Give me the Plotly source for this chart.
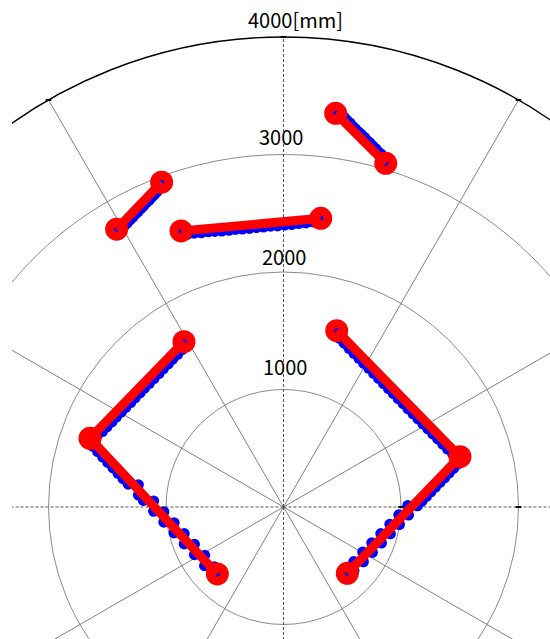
import plotly.graph_objects as go
import math

# ---------------- data (mm) ----------------
ring_radii = [1000, 2000, 3000, 4000]
ring_labels = ["1000", "2000", "3000", "4000[mm]"]
spoke_angles = [30, 60, 120, 150, 210, 240, 300, 330]
axis_angles = [0, 90, 180, 270]

# fitted line segments (red)
seg_a_x = [444, 870]
seg_a_y = [3351, 2925]
seg_b_x = [-1420, -1037]
seg_b_y = [2364, 2764]
seg_c_x = [-872, 317]
seg_c_y = [2349, 2457]
seg_d_x = [-847, -1647, -563]
seg_d_y = [1407, 585, -570]
seg_e_x = [453, 1502, 543]
seg_e_y = [1501, 428, -564]

# scan points (blue)
blue_a_x = [444, 470, 492, 518, 541, 566, 590, 613, 640, 662, 688, 712, 736, 760, 785, 808, 832, 852, 870]
blue_a_y = [3351, 3362, 3338, 3316, 3290, 3268, 3240, 3218, 3192, 3171, 3147, 3119, 3099, 3073, 3050, 3023, 3003, 2973, 2925]
blue_b_x = [-1420, -1398, -1375, -1352, -1330, -1306, -1284, -1260, -1238, -1214, -1192, -1168, -1145, -1122, -1100, -1078, -1058, -1037]
blue_b_y = [2364, 2347, 2369, 2397, 2416, 2443, 2464, 2493, 2512, 2539, 2560, 2589, 2609, 2635, 2656, 2683, 2712, 2764]
blue_c_x = [-872, -815, -760, -700, -640, -585, -525, -465, -410, -350, -290, -230, -170, -110, -50, 10, 70, 130, 190, 250, 317]
blue_c_y = [2349, 2322, 2330, 2333, 2342, 2345, 2348, 2355, 2362, 2365, 2371, 2378, 2382, 2390, 2392, 2400, 2404, 2412, 2418, 2426, 2457]
blue_d1_x = [-847, -862, -900, -942, -980, -1022, -1060, -1102, -1140, -1182, -1220, -1262, -1300, -1342, -1380, -1422, -1460, -1502, -1541, -1586, -1647]
blue_d1_y = [1407, 1340, 1299, 1258, 1218, 1176, 1135, 1093, 1053, 1011, 971, 929, 889, 847, 807, 765, 724, 682, 642, 606, 585]
blue_d2_x = [-1626, -1582, -1539, -1496, -1452, -1409, -1366, -1322, -1235, -1235, -1192, -1105, -1105, -1018, -1019, -931, -932, -845, -845, -758, -758, -671, -672, -590, -563]
blue_d2_y = [518, 472, 425, 379, 333, 287, 241, 194, 190, 102, 56, 52, -37, -41, -129, -133, -221, -226, -314, -318, -406, -410, -499, -508, -570]
blue_e1_x = [453, 473, 515, 557, 599, 641, 683, 725, 767, 809, 851, 893, 935, 976, 1018, 1060, 1102, 1144, 1186, 1228, 1270, 1312, 1354, 1396, 1440, 1502]
blue_e1_y = [1501, 1437, 1394, 1351, 1308, 1265, 1222, 1180, 1137, 1094, 1051, 1008, 965, 922, 879, 836, 793, 750, 707, 665, 622, 579, 536, 493, 452, 428]
blue_e2_x = [1486, 1447, 1409, 1371, 1332, 1294, 1255, 1217, 1179, 1140, 1058, 1064, 981, 987, 905, 910, 828, 834, 751, 757, 674, 680, 598, 600, 543]
blue_e2_y = [367, 328, 288, 248, 209, 169, 129, 90, 50, 10, 13, -69, -67, -149, -146, -228, -226, -307, -305, -387, -384, -466, -464, -543, -564]

# ---------------- layout geometry ----------------
W, H = 550, 639
ML = 12
CX_PX, CY_PX = 283.5, 507.0
SCALE = 0.1175  # px per mm
x_range = [(ML - CX_PX) / SCALE, (W - CX_PX) / SCALE]
y_range = [-(H - CY_PX) / SCALE, CY_PX / SCALE]

fig = go.Figure()

shapes = []
# grid rings
for r in ring_radii:
    outer = r == ring_radii[-1]
    shapes.append(dict(type="circle", xref="x", yref="y", x0=-r, y0=-r, x1=r, y1=r,
                       line=dict(color="#000000" if outer else "#8a8a8a", width=1.4 if outer else 1),
                       layer="below"))
R = ring_radii[-1]
for a in spoke_angles:
    shapes.append(dict(type="line", xref="x", yref="y", x0=0, y0=0,
                       x1=R * math.cos(math.radians(a)), y1=R * math.sin(math.radians(a)),
                       line=dict(color="#808080", width=1), layer="below"))
for a in axis_angles:
    shapes.append(dict(type="line", xref="x", yref="y", x0=0, y0=0,
                       x1=R * math.cos(math.radians(a)), y1=R * math.sin(math.radians(a)),
                       line=dict(color="#555555", width=1, dash="3px,2px"), layer="below"))

# small tick marks where spokes meet the outer ring / rings meet the +x axis
tick_x = [R * math.cos(math.radians(a)) for a in (60, 90, 120)] + [r for r in ring_radii[:2]]
tick_y = [R * math.sin(math.radians(a)) for a in (60, 90, 120)] + [0 for r in ring_radii[:2]]
fig.add_trace(go.Scatter(x=tick_x, y=tick_y, mode="markers",
                         marker=dict(symbol="line-ew", size=4, line=dict(color="#000000", width=2)),
                         showlegend=False, hoverinfo="skip"))

# blue scan points
for bx, by in [(blue_a_x, blue_a_y), (blue_b_x, blue_b_y), (blue_c_x, blue_c_y),
               (blue_d1_x, blue_d1_y), (blue_d2_x, blue_d2_y),
               (blue_e1_x, blue_e1_y), (blue_e2_x, blue_e2_y)]:
    fig.add_trace(go.Scatter(x=bx, y=by, mode="markers",
                             marker=dict(color="#0000ff", size=11, line=dict(width=0)),
                             showlegend=False, hoverinfo="skip"))

# red fitted segments
for sx, sy in [(seg_a_x, seg_a_y), (seg_b_x, seg_b_y), (seg_c_x, seg_c_y),
               (seg_d_x, seg_d_y), (seg_e_x, seg_e_y)]:
    fig.add_trace(go.Scatter(x=sx, y=sy, mode="lines",
                             line=dict(color="#ff0000", width=9),
                             showlegend=False, hoverinfo="skip"))
    fig.add_trace(go.Scatter(x=[sx[0], sx[-1]], y=[sy[0], sy[-1]], mode="markers",
                             marker=dict(symbol="circle-open", color="#ff0000", size=14,
                                         line=dict(color="#ff0000", width=9)),
                             showlegend=False, hoverinfo="skip"))
# corner markers of the V shapes
fig.add_trace(go.Scatter(x=[seg_d_x[1], seg_e_x[1]], y=[seg_d_y[1], seg_e_y[1]], mode="markers",
                         marker=dict(symbol="circle-open", color="#ff0000", size=14,
                                     line=dict(color="#ff0000", width=9)),
                         showlegend=False, hoverinfo="skip"))

# ring labels
label_pos = [(13, 1192), (4, 2128), (-21, 3149), (98, 4145)]
annotations = []
for txt, (lx, ly) in zip(ring_labels, label_pos):
    annotations.append(dict(x=lx, y=ly, xref="x", yref="y", text=txt, showarrow=False,
                            font=dict(family="Noto Sans CJK JP, Liberation Sans, sans-serif",
                                      size=20, color="#000000"),
                            xanchor="center", yanchor="middle"))

fig.update_layout(
    width=W, height=H,
    margin=dict(l=ML, r=0, t=0, b=0),
    paper_bgcolor="white", plot_bgcolor="white",
    shapes=shapes, annotations=annotations,
    xaxis=dict(range=x_range, visible=False, fixedrange=True),
    yaxis=dict(range=y_range, visible=False, fixedrange=True),
    showlegend=False,
)

fig.write_html("out.html", config={"displayModeBar": False},
               post_script="document.body.style.margin='0';document.body.style.overflow='hidden';")
